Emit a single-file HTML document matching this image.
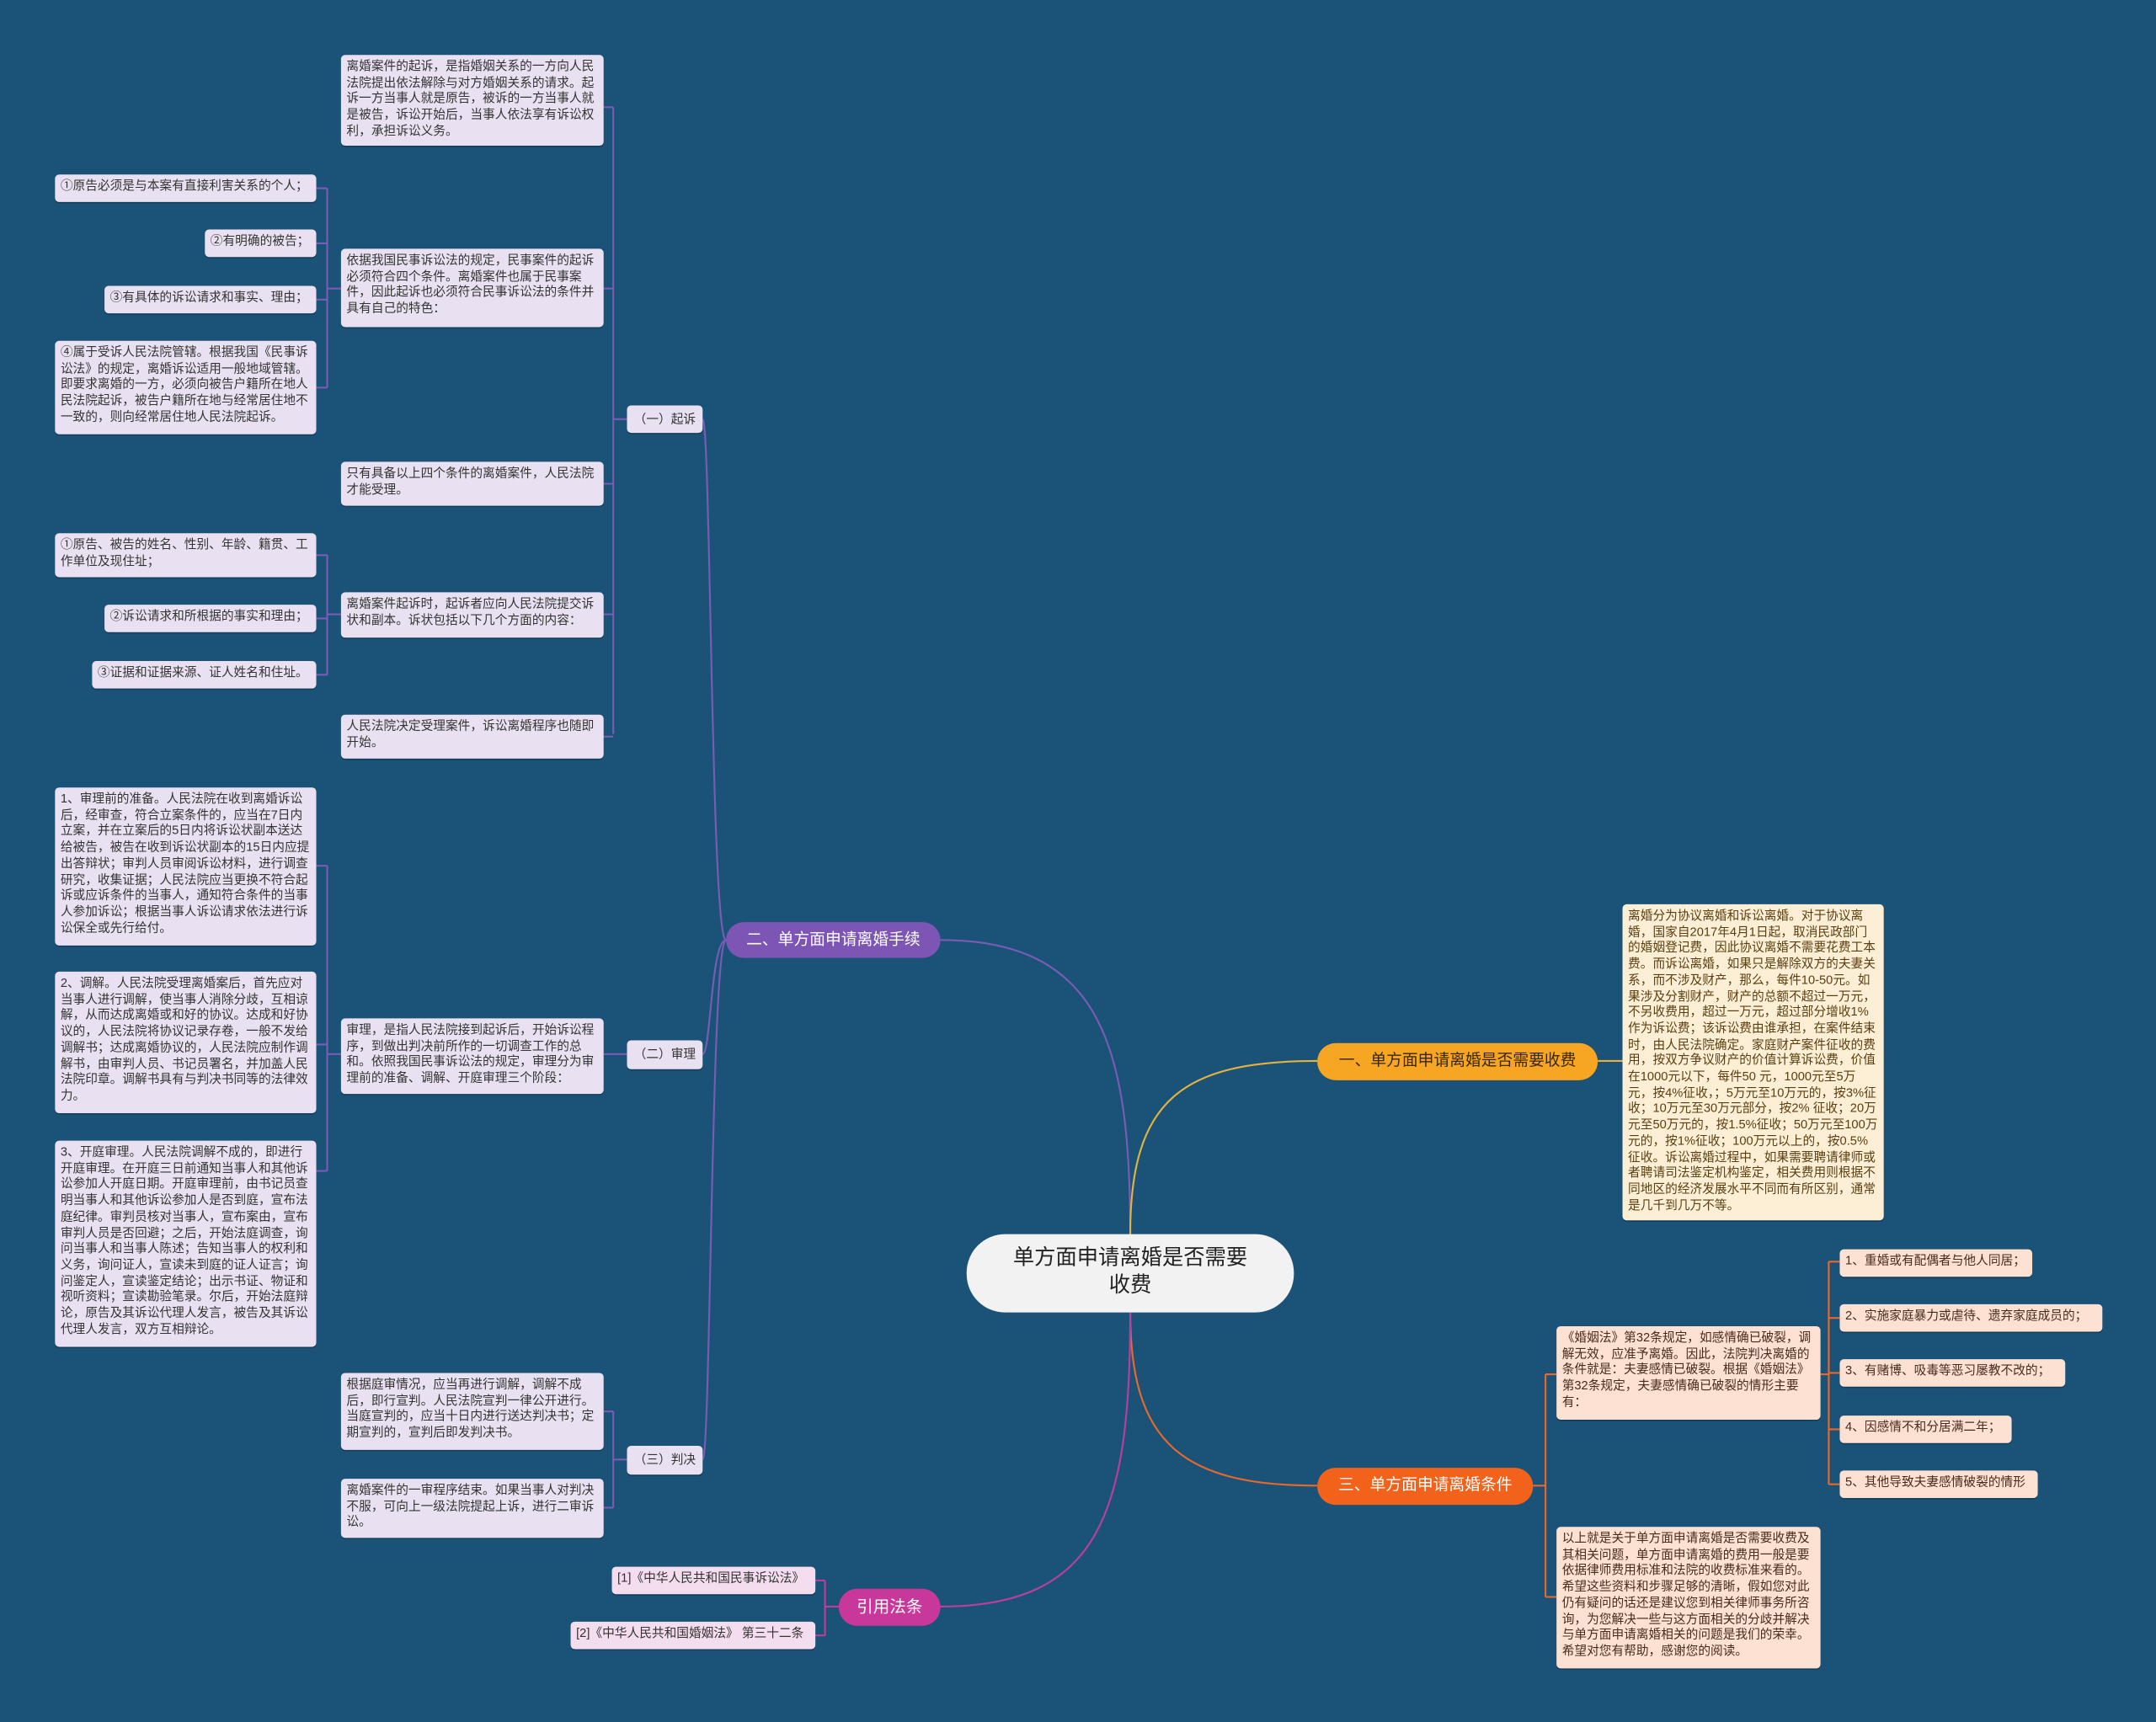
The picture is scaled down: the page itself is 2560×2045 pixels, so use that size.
<!DOCTYPE html>
<html><head><meta charset="utf-8"><style>
html,body{margin:0;padding:0;width:2560px;height:2045px;overflow:hidden;background:#1b5378;}
#c{position:absolute;left:0;top:0;width:1568px;height:1253px;transform-origin:0 0;transform:scale(1.63265,1.6321);font-family:"Liberation Sans","Noto Sans CJK SC",sans-serif;}
.b{position:absolute;box-sizing:border-box;font-size:9px;line-height:11.7px;color:#333;padding:3px 4px;border-radius:3px;background:#e9e1f1;box-shadow:0 1px 0 rgba(0,0,0,.25);}
.o{background:#fdefd5;color:#5a3e10;}
.p{background:#fde1d2;color:#4a2a1a;}
.k{background:#f3ddee;}
.m{position:absolute;box-sizing:border-box;border-radius:14px;text-align:center;font-size:11.5px;line-height:26px;}
svg{position:absolute;left:0;top:0;}
</style></head><body><div id="c">
<svg width="1568" height="1253" fill="none" stroke-width="1.3">
<g stroke="#7a5bb5">
<path d="M822,898 C822,760 800,684 684,684"/>
<path d="M528,684 C517,684 517,305 511,305"/>
<path d="M528,684 C517,684 517,767 511,767"/>
<path d="M528,684 C517,684 517,1062 511,1062"/>
<path d="M456,305 H446 M446,78 V534 M439,78 H446 M439,210 H446 M439,352 H446 M439,447 H446 M439,536 H446"/>
<path d="M248,210 H238 M238,137 V282 M230,137 H238 M230,177 H238 M230,218 H238 M230,282 H238"/>
<path d="M248,447 H238 M238,404 V491 M230,404 H238 M230,450 H238 M230,491 H238"/>
<path d="M456,767 H439"/>
<path d="M248,767 H238 M238,630 V852 M230,630 H238 M230,760 H238 M230,852 H238"/>
<path d="M456,1062 H446 M446,1027 V1097 M439,1027 H446 M439,1097 H446"/>
</g>
<g stroke="#e3b341"><path d="M822,898 C822,800 860,772 958,772"/><path d="M1162,772 H1180"/></g>
<g stroke="#e8692b">
<path d="M822,955 C822,1050 860,1081 958,1081"/>
<path d="M1115,1081 H1124 M1124,1000 V1162 M1124,1000 H1132 M1124,1162 H1132"/>
<path d="M1324,1000 H1330 M1330,918 V1080 M1330,918 H1338 M1330,959 H1338 M1330,999 H1338 M1330,1040 H1338 M1330,1080 H1338"/>
</g>
<g stroke="#b8409a">
<path d="M822,955 C822,1100 800,1169 684,1169"/>
<path d="M610,1169 H600 M600,1150 V1190 M593,1150 H600 M593,1190 H600"/>
</g>
</svg>

<div class="m" style="left:703px;top:898px;width:238px;height:57px;background:#f2f2f2;border-radius:28px;font-size:15.5px;line-height:20px;padding-top:8px;color:#222;">单方面申请离婚是否需要<br>收费</div>
<div class="m" style="left:528px;top:671px;width:156px;height:26px;background:#7c55b5;color:#fff;">二、单方面申请离婚手续</div>
<div class="m" style="left:958px;top:759px;width:204px;height:27px;background:#f7a623;color:#3a2600;">一、单方面申请离婚是否需要收费</div>
<div class="m" style="left:958px;top:1068px;width:157px;height:27px;background:#f2621a;color:#fff;">三、单方面申请离婚条件</div>
<div class="m" style="left:610px;top:1156px;width:74px;height:27px;background:#c8379a;color:#fff;font-size:12px;">引用法条</div>

<div class="b" style="left:456px;top:295px;width:55px;height:20px;text-align:center;line-height:14px;">（一）起诉</div>
<div class="b" style="left:456px;top:757px;width:55px;height:21px;text-align:center;line-height:15px;">（二）审理</div>
<div class="b" style="left:456px;top:1052px;width:55px;height:21px;text-align:center;line-height:15px;">（三）判决</div>

<div class="b" style="left:248px;top:40px;width:191px;height:66px;">离婚案件的起诉，是指婚姻关系的一方向人民法院提出依法解除与对方婚姻关系的请求。起诉一方当事人就是原告，被诉的一方当事人就是被告，诉讼开始后，当事人依法享有诉讼权利，承担诉讼义务。</div>
<div class="b" style="left:248px;top:181px;width:191px;height:57px;">依据我国民事诉讼法的规定，民事案件的起诉必须符合四个条件。离婚案件也属于民事案件，因此起诉也必须符合民事诉讼法的条件并具有自己的特色：</div>
<div class="b" style="left:248px;top:336px;width:191px;height:32px;">只有具备以上四个条件的离婚案件，人民法院才能受理。</div>
<div class="b" style="left:248px;top:431px;width:191px;height:33px;">离婚案件起诉时，起诉者应向人民法院提交诉状和副本。诉状包括以下几个方面的内容：</div>
<div class="b" style="left:248px;top:520px;width:191px;height:32px;">人民法院决定受理案件，诉讼离婚程序也随即开始。</div>
<div class="b" style="left:248px;top:741px;width:191px;height:55px;">审理，是指人民法院接到起诉后，开始诉讼程序，到做出判决前所作的一切调查工作的总和。依照我国民事诉讼法的规定，审理分为审理前的准备、调解、开庭审理三个阶段：</div>
<div class="b" style="left:248px;top:999px;width:191px;height:56px;">根据庭审情况，应当再进行调解，调解不成后，即行宣判。人民法院宣判一律公开进行。当庭宣判的，应当十日内进行送达判决书；定期宣判的，宣判后即发判决书。</div>
<div class="b" style="left:248px;top:1076px;width:191px;height:43px;">离婚案件的一审程序结束。如果当事人对判决不服，可向上一级法院提起上诉，进行二审诉讼。</div>

<div class="b" style="left:40px;top:127px;width:190px;height:20px;">①原告必须是与本案有直接利害关系的个人；</div>
<div class="b" style="left:149px;top:167px;width:81px;height:20px;">②有明确的被告；</div>
<div class="b" style="left:76px;top:208px;width:154px;height:20px;">③有具体的诉讼请求和事实、理由；</div>
<div class="b" style="left:40px;top:248px;width:190px;height:68px;">④属于受诉人民法院管辖。根据我国《民事诉讼法》的规定，离婚诉讼适用一般地域管辖。即要求离婚的一方，必须向被告户籍所在地人民法院起诉，被告户籍所在地与经常居住地不一致的，则向经常居住地人民法院起诉。</div>
<div class="b" style="left:40px;top:388px;width:190px;height:32px;">①原告、被告的姓名、性别、年龄、籍贯、工作单位及现住址；</div>
<div class="b" style="left:76px;top:440px;width:154px;height:20px;">②诉讼请求和所根据的事实和理由；</div>
<div class="b" style="left:67px;top:481px;width:163px;height:20px;">③证据和证据来源、证人姓名和住址。</div>
<div class="b" style="left:40px;top:573px;width:190px;height:115px;">1、审理前的准备。人民法院在收到离婚诉讼后，经审查，符合立案条件的，应当在7日内立案，并在立案后的5日内将诉讼状副本送达给被告，被告在收到诉讼状副本的15日内应提出答辩状；审判人员审阅诉讼材料，进行调查研究，收集证据；人民法院应当更换不符合起诉或应诉条件的当事人，通知符合条件的当事人参加诉讼；根据当事人诉讼请求依法进行诉讼保全或先行给付。</div>
<div class="b" style="left:40px;top:707px;width:190px;height:103px;">2、调解。人民法院受理离婚案后，首先应对当事人进行调解，使当事人消除分歧，互相谅解，从而达成离婚或和好的协议。达成和好协议的，人民法院将协议记录存卷，一般不发给调解书；达成离婚协议的，人民法院应制作调解书，由审判人员、书记员署名，并加盖人民法院印章。调解书具有与判决书同等的法律效力。</div>
<div class="b" style="left:40px;top:830px;width:190px;height:150px;">3、开庭审理。人民法院调解不成的，即进行开庭审理。在开庭三日前通知当事人和其他诉讼参加人开庭日期。开庭审理前，由书记员查明当事人和其他诉讼参加人是否到庭，宣布法庭纪律。审判员核对当事人，宣布案由，宣布审判人员是否回避；之后，开始法庭调查，询问当事人和当事人陈述；告知当事人的权利和义务，询问证人，宣读未到庭的证人证言；询问鉴定人，宣读鉴定结论；出示书证、物证和视听资料；宣读勘验笔录。尔后，开始法庭辩论，原告及其诉讼代理人发言，被告及其诉讼代理人发言，双方互相辩论。</div>

<div class="b k" style="left:445px;top:1140px;width:148px;height:20px;">[1]《中华人民共和国民事诉讼法》</div>
<div class="b k" style="left:415px;top:1180px;width:178px;height:20px;">[2]《中华人民共和国婚姻法》 第三十二条</div>

<div class="b o" style="left:1180px;top:658px;width:190px;height:230px;">离婚分为协议离婚和诉讼离婚。对于协议离婚，国家自2017年4月1日起，取消民政部门的婚姻登记费，因此协议离婚不需要花费工本费。而诉讼离婚，如果只是解除双方的夫妻关系，而不涉及财产，那么，每件10-50元。如果涉及分割财产，财产的总额不超过一万元，不另收费用，超过一万元，超过部分增收1%作为诉讼费；该诉讼费由谁承担，在案件结束时，由人民法院确定。家庭财产案件征收的费用，按双方争议财产的价值计算诉讼费，价值在1000元以下，每件50 元，1000元至5万元，按4%征收，；5万元至10万元的，按3%征收；10万元至30万元部分，按2% 征收；20万元至50万元的，按1.5%征收；50万元至100万元的，按1%征收；100万元以上的，按0.5%征收。诉讼离婚过程中，如果需要聘请律师或者聘请司法鉴定机构鉴定，相关费用则根据不同地区的经济发展水平不同而有所区别，通常是几千到几万不等。</div>

<div class="b p" style="left:1132px;top:965px;width:192px;height:68px;">《婚姻法》第32条规定，如感情确已破裂，调解无效，应准予离婚。因此，法院判决离婚的条件就是：夫妻感情已破裂。根据《婚姻法》第32条规定，夫妻感情确已破裂的情形主要有：</div>
<div class="b p" style="left:1132px;top:1111px;width:192px;height:103px;">以上就是关于单方面申请离婚是否需要收费及其相关问题，单方面申请离婚的费用一般是要依据律师费用标准和法院的收费标准来看的。希望这些资料和步骤足够的清晰，假如您对此仍有疑问的话还是建议您到相关律师事务所咨询，为您解决一些与这方面相关的分歧并解决与单方面申请离婚相关的问题是我们的荣幸。希望对您有帮助，感谢您的阅读。</div>
<div class="b p" style="left:1338px;top:909px;width:140px;height:20px;">1、重婚或有配偶者与他人同居；</div>
<div class="b p" style="left:1338px;top:949px;width:191px;height:20px;">2、实施家庭暴力或虐待、遗弃家庭成员的；</div>
<div class="b p" style="left:1338px;top:989px;width:164px;height:20px;">3、有赌博、吸毒等恶习屡教不改的；</div>
<div class="b p" style="left:1338px;top:1030px;width:125px;height:20px;">4、因感情不和分居满二年；</div>
<div class="b p" style="left:1338px;top:1070px;width:144px;height:20px;">5、其他导致夫妻感情破裂的情形</div>
</div></body></html>
